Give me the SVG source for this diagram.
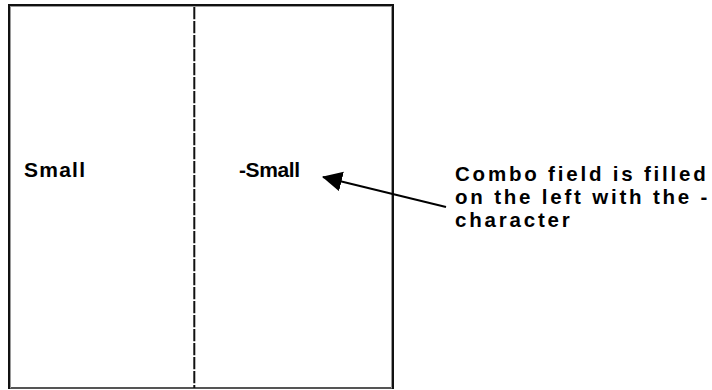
<svg xmlns="http://www.w3.org/2000/svg" width="712" height="390" viewBox="0 0 712 390">
  <defs>
    <style>
      .frame { fill: #ffffff; stroke: #111111; stroke-width: 2; }
      .frame-inner { fill: none; stroke: #9a9a9a; stroke-width: 1; }
      .divider { stroke: #111111; stroke-width: 2; stroke-dasharray: 12.3 1.7; fill: none; }
      .cell { font-family: "Liberation Sans", Arial, sans-serif; font-weight: bold; font-size: 21px; fill: #000000; }
      .note { font-family: "Liberation Sans", Arial, sans-serif; font-weight: bold; font-size: 20.5px; letter-spacing: 2.8px; fill: #000000; }
      .connector { stroke: #000000; stroke-width: 2; fill: none; }
    </style>
    <marker id="arrowhead" markerUnits="userSpaceOnUse" markerWidth="22" markerHeight="22" refX="19" refY="10" orient="auto">
      <path d="M0,0 L20,10 L0,20 Z" fill="#000000"/>
    </marker>
  </defs>
  <rect width="712" height="390" fill="#ffffff"/>
  <g id="table">
    <rect class="frame" x="9" y="5" width="384" height="383"/>
    <rect class="frame-inner" x="10.5" y="6.5" width="381" height="381.5"/>
    <line class="divider" x1="194.3" y1="7" x2="194.3" y2="388"/>
  </g>
  <g id="cell-left">
    <text class="cell" x="24" y="177" textLength="61" lengthAdjust="spacing">Small</text>
  </g>
  <g id="cell-right">
    <text class="cell" x="239" y="177" textLength="61" lengthAdjust="spacing">-Small</text>
  </g>
  <g id="note">
    <text class="note" x="455" y="181">Combo field is filled</text>
    <text class="note" x="455" y="204">on the left with the -</text>
    <text class="note" x="455" y="227">character</text>
  </g>
  <g id="connectors">
    <line class="connector" x1="446" y1="207" x2="323" y2="177" marker-end="url(#arrowhead)"/>
  </g>
</svg>
